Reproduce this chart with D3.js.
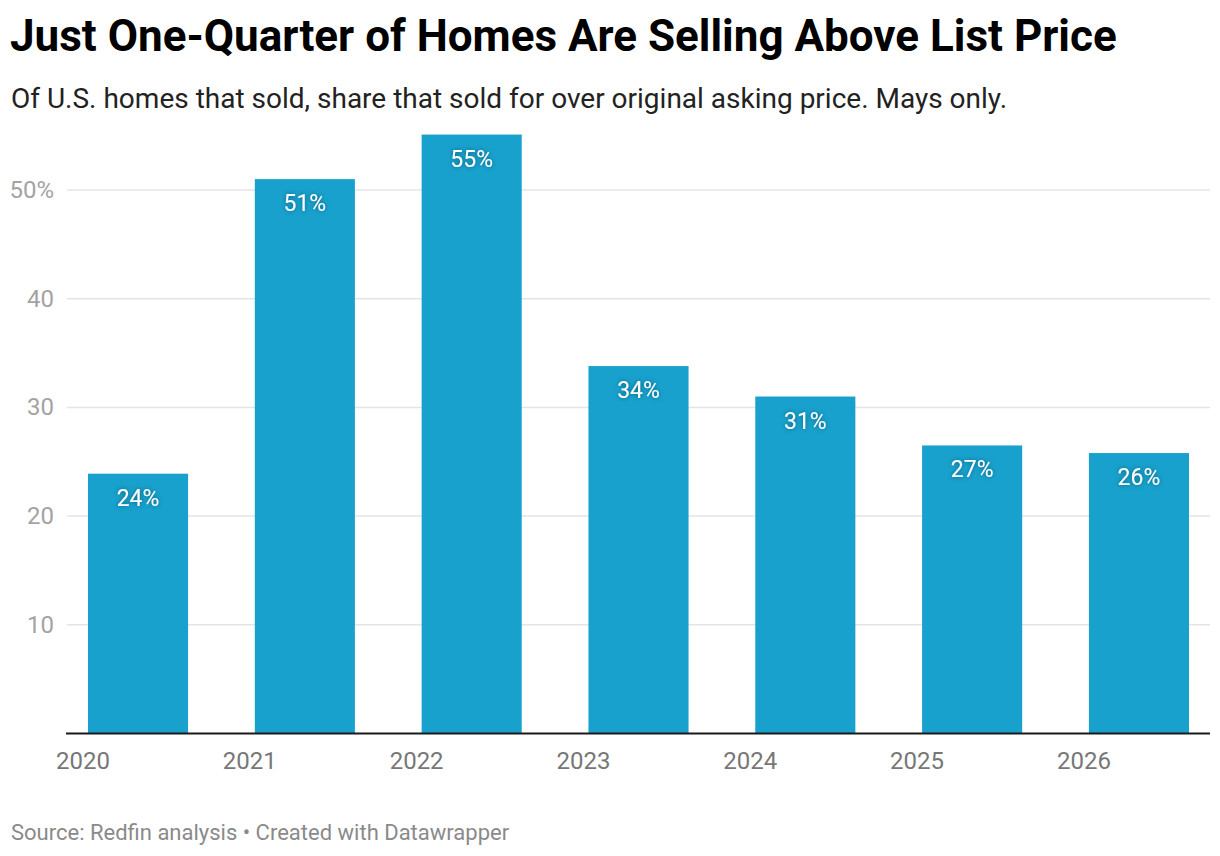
<!DOCTYPE html>
<html lang="en">
  <head>
    <meta charset="UTF-8" />
    <title>Just One-Quarter of Homes Are Selling Above List Price</title>
    <style>
      body {
        margin: 0;
        background: #fff;
        font-family: Roboto, sans-serif;
      }
      svg {
        display: block;
      }
    </style>
  </head>
  <body>
    <svg width="1220" height="856"></svg>
    <script src="https://d3js.org/d3.v7.min.js"></script>
    <script>
      const years = ['2020', '2021', '2022', '2023', '2024', '2025', '2026'];
      const shares = [23.9, 51.0, 55.1, 33.8, 31.0, 26.5, 25.8];
      const yTicks = [10, 20, 30, 40, 50];

      const svg = d3.select('svg');
      const barColor = '#18a1cd';

      // titles
      svg.append('text')
        .attr('x', 10).attr('y', 51)
        .attr('font-size', 44).attr('font-weight', 700).attr('fill', '#000')
        .text('Just One-Quarter of Homes Are Selling Above List Price');

      svg.append('text')
        .attr('x', 11).attr('y', 108)
        .attr('font-size', 28).attr('fill', '#222')
        .text('Of U.S. homes that sold, share that sold for over original asking price. Mays only.');

      svg.append('text')
        .attr('x', 11).attr('y', 840)
        .attr('font-size', 22).attr('fill', '#8a8a8a')
        .text('Source: Redfin analysis \u2022 Created with Datawrapper');

      const y = d3.scaleLinear().domain([0, 50]).range([733.5, 190]);
      const x = d3.scaleBand().domain(years).range([88, 1189]).paddingInner(0.4).paddingOuter(0);

      // grid
      const grid = svg.append('g');
      grid.selectAll('line')
        .data(yTicks)
        .join('line')
        .attr('x1', 67).attr('x2', 1210)
        .attr('y1', d => y(d)).attr('y2', d => y(d))
        .attr('stroke', '#e4e4e4').attr('stroke-width', 1.5);

      grid.selectAll('text')
        .data(yTicks)
        .join('text')
        .attr('x', 54).attr('y', d => y(d) + 8)
        .attr('text-anchor', 'end')
        .attr('font-size', 24).attr('fill', '#a3a3a3')
        .text(d => d === 50 ? d + '%' : d);

      // bars
      const bars = svg.append('g');
      bars.selectAll('rect')
        .data(shares)
        .join('rect')
        .attr('x', (d, i) => x(years[i]))
        .attr('width', x.bandwidth())
        .attr('y', d => y(d))
        .attr('height', d => y(0) - y(d))
        .attr('fill', barColor);

      // shadow for value labels
      const defs = svg.append('defs');
      const f = defs.append('filter').attr('id', 'shadow')
        .attr('x', '-30%').attr('y', '-30%').attr('width', '160%').attr('height', '160%');
      f.append('feDropShadow')
        .attr('dx', 0).attr('dy', 0).attr('stdDeviation', 2)
        .attr('flood-color', '#0b4f66').attr('flood-opacity', 0.8);

      bars.selectAll('text')
        .data(shares)
        .join('text')
        .attr('x', (d, i) => x(years[i]) + x.bandwidth() / 2)
        .attr('y', d => y(d) + 32)
        .attr('text-anchor', 'middle')
        .attr('font-size', 23).attr('fill', '#fff')
        .attr('filter', 'url(#shadow)')
        .text(d => Math.round(d) + '%');

      // baseline
      svg.append('line')
        .attr('x1', 66).attr('x2', 1210)
        .attr('y1', y(0)).attr('y2', y(0))
        .attr('stroke', '#1a1a1a').attr('stroke-width', 2);

      // x labels
      svg.append('g').selectAll('text')
        .data(years)
        .join('text')
        .attr('x', d => x(d) - 5)
        .attr('y', 769)
        .attr('text-anchor', 'middle')
        .attr('font-size', 24).attr('fill', '#777')
        .text(d => d);
    </script>
  </body>
</html>
